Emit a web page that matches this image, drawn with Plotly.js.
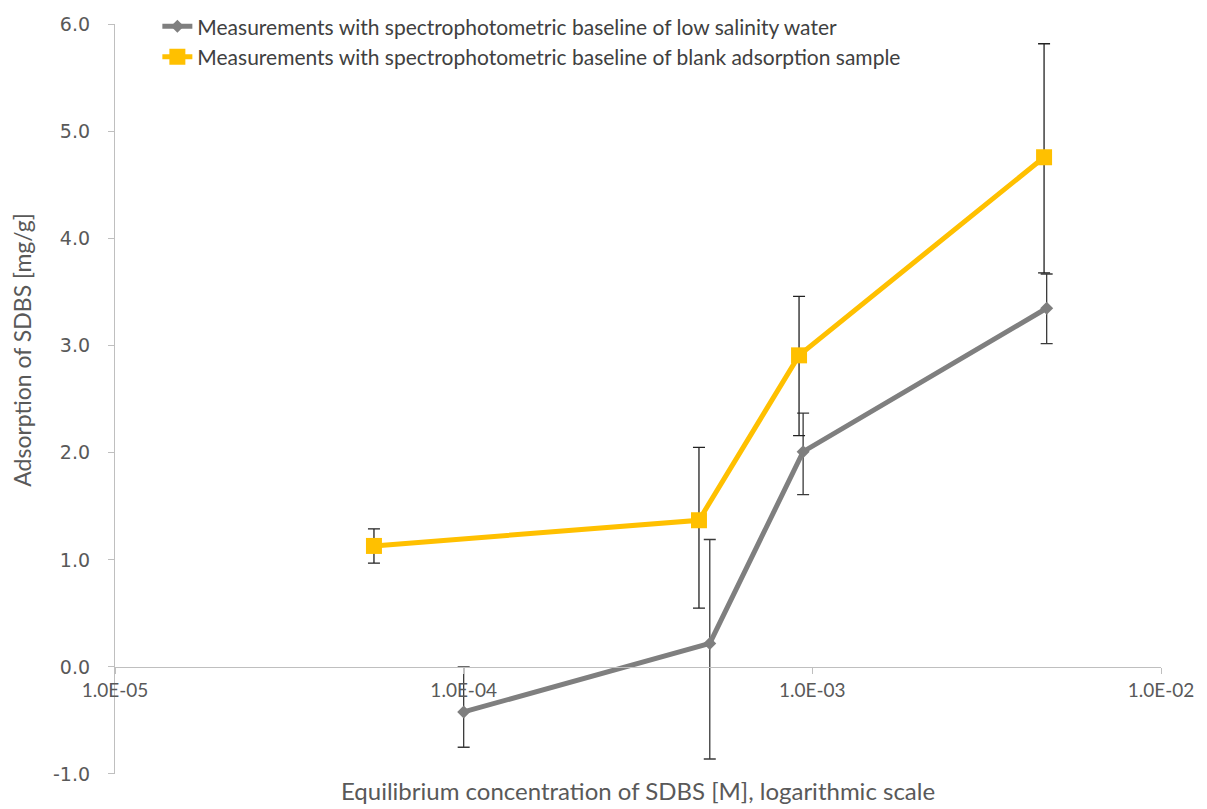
<!DOCTYPE html>
<html>
<head>
<meta charset="utf-8">
<script src="https://cdn.plot.ly/plotly-3.0.1.min.js"></script>
<style>html,body{margin:0;padding:0;background:#fff;}#chart{width:1207px;height:809px;}</style>
</head>
<body>
<div id="chart"></div>
<script>
// Series 1: baseline of low salinity water
const lowSalinityX = [1.0e-4, 5.08e-4, 9.41e-4, 4.70e-3];
const lowSalinityY = [-0.42, 0.22, 2.01, 3.35];
const lowSalinityErrPlus = [0.42, 0.97, 0.36, 0.32];
const lowSalinityErrMinus = [0.33, 1.08, 0.40, 0.33];

// Series 2: baseline of blank adsorption sample
const blankX = [5.53e-5, 4.73e-4, 9.16e-4, 4.62e-3];
const blankY = [1.13, 1.37, 2.91, 4.76];
const blankErrPlus = [0.16, 0.68, 0.55, 1.06];
const blankErrMinus = [0.16, 0.82, 0.75, 1.08];

const seriesNames = [
  'Measurements with spectrophotometric baseline of low salinity water',
  'Measurements with spectrophotometric baseline of blank adsorption sample'
];

const xTickVals = [1e-5, 1e-4, 1e-3, 1e-2];
const xTickText = ['1.0E-05', '1.0E-04', '1.0E-03', '1.0E-02'];
const yTickVals = [-1, 0, 1, 2, 3, 4, 5, 6];
const yTickText = ['-1.0', '0.0', '1.0', '2.0', '3.0', '4.0', '5.0', '6.0'];

const xTitle = 'Equilibrium concentration of SDBS [M], logarithmic scale';
const yTitle = 'Adsorption of SDBS [mg/g]';

const textFont = 'Lato, Liberation Sans, Arial, sans-serif';
const yDomainTop = 0.96835;

const traces = [
  {
    x: lowSalinityX, y: lowSalinityY, name: seriesNames[0],
    type: 'scatter', mode: 'lines+markers',
    line: {color: '#7f7f7f', width: 5},
    marker: {symbol: 'diamond', size: 10, color: '#7f7f7f'},
    error_y: {type: 'data', symmetric: false, array: lowSalinityErrPlus, arrayminus: lowSalinityErrMinus,
              color: '#3a3a3a', thickness: 1.3, width: 6}
  },
  {
    x: blankX, y: blankY, name: seriesNames[1],
    type: 'scatter', mode: 'lines+markers',
    line: {color: '#ffc000', width: 5},
    marker: {symbol: 'square', size: 16, color: '#ffc000'},
    error_y: {type: 'data', symmetric: false, array: blankErrPlus, arrayminus: blankErrMinus,
              color: '#222222', thickness: 1.3, width: 6}
  },
  // invisible trace on the overlaid axis so that its ticks are drawn
  {x: lowSalinityX, y: lowSalinityY, xaxis: 'x2', yaxis: 'y', type: 'scatter', mode: 'none',
   showlegend: false, hoverinfo: 'skip'}
];

const layout = {
  width: 1207, height: 809,
  paper_bgcolor: '#ffffff', plot_bgcolor: '#ffffff',
  margin: {l: 115, r: 46, t: 0, b: 35},
  showlegend: true,
  legend: {
    x: 0.0405, y: 0.992, xanchor: 'left', yanchor: 'top',
    font: {family: textFont, size: 21, color: '#404040'},
    bgcolor: 'rgba(0,0,0,0)', itemwidth: 30, tracegroupgap: 0
  },
  xaxis: {
    type: 'log', range: [-5, -2],
    showline: false, showgrid: false, zeroline: false,
    showticklabels: false, ticks: '',
    automargin: false
  },
  xaxis2: {
    type: 'log', range: [-5, -2], overlaying: 'x', matches: 'x',
    anchor: 'free', position: yDomainTop / 7,
    showline: true, linecolor: '#bfbfbf', linewidth: 1.3,
    showgrid: false, zeroline: false,
    ticks: 'outside', ticklen: 6, tickcolor: '#bfbfbf', tickwidth: 1.3,
    tickvals: xTickVals, ticktext: xTickText,
    tickfont: {family: textFont, size: 19, color: '#595959'},
    automargin: false
  },
  yaxis: {
    range: [-1, 6], domain: [0, yDomainTop],
    showline: true, linecolor: '#bfbfbf', linewidth: 1.3,
    showgrid: false, zeroline: false,
    ticks: 'outside', ticklen: 6, tickcolor: '#bfbfbf', tickwidth: 1.3,
    tickvals: yTickVals, ticktext: yTickText, ticklabelstandoff: 14,
    tickfont: {family: 'DejaVu Sans, Verdana, sans-serif', size: 19, color: '#595959'},
    automargin: false
  },
  annotations: [
    {text: xTitle, xref: 'paper', yref: 'paper', x: 0.5, y: -0.021, xanchor: 'center', yanchor: 'middle',
     showarrow: false, font: {family: textFont, size: 24, color: '#595959'}},
    {text: yTitle, xref: 'paper', yref: 'paper', x: -0.089, y: 0.548, xanchor: 'center', yanchor: 'middle',
     textangle: -90, showarrow: false, font: {family: textFont, size: 23, color: '#595959'}}
  ]
};

Plotly.newPlot('chart', traces, layout, {displayModeBar: false, responsive: false});
</script>
</body>
</html>
